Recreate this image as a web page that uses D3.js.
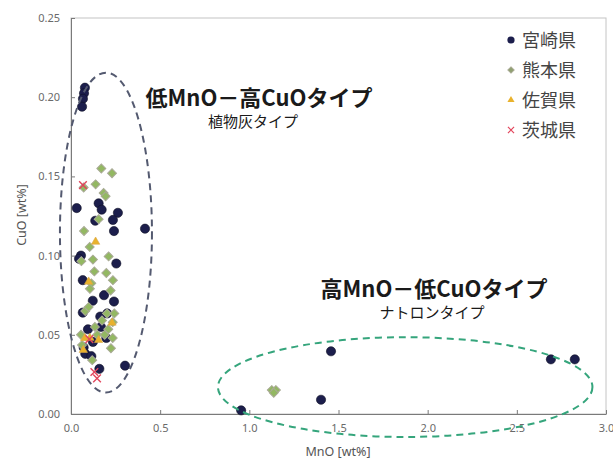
<!DOCTYPE html>
<html>
<head>
<meta charset="utf-8">
<script src="https://cdn.jsdelivr.net/npm/d3@7"></script>
<style>
  html, body { margin: 0; padding: 0; background: #fff; }
  svg { display: block; font-family: "Noto Sans CJK JP", "Noto Sans", sans-serif; }
</style>
</head>
<body>
<div id="chart"></div>
<script>
// MnO vs CuO scatter by prefecture, two dashed ellipses marking glass types

// [MnO, CuO] pairs in wt%
const miyazaki = [
  [0.078, 0.206], [0.073, 0.2025], [0.067, 0.199], [0.062, 0.194],
  [0.032, 0.130], [0.155, 0.133], [0.172, 0.129], [0.263, 0.127],
  [0.136, 0.122], [0.235, 0.1225], [0.241, 0.1155], [0.415, 0.117],
  [0.056, 0.100], [0.045, 0.098], [0.254, 0.095],
  [0.066, 0.0845], [0.185, 0.075], [0.241, 0.071], [0.122, 0.0715],
  [0.066, 0.064], [0.164, 0.0615], [0.203, 0.0635], [0.095, 0.0535],
  [0.168, 0.055], [0.123, 0.0455], [0.198, 0.048], [0.071, 0.042],
  [0.080, 0.038], [0.114, 0.0365], [0.159, 0.0285], [0.303, 0.0305],
  [1.458, 0.0396], [1.402, 0.009], [0.954, 0.0023], [2.691, 0.0345], [2.825, 0.0345]
];
const kumamoto = [
  [0.170, 0.155], [0.230, 0.152], [0.138, 0.145], [0.183, 0.1395],
  [0.194, 0.1375], [0.071, 0.143], [0.155, 0.123], [0.073, 0.1155],
  [0.105, 0.1055], [0.211, 0.0995], [0.123, 0.0975], [0.058, 0.0965],
  [0.131, 0.090], [0.198, 0.089], [0.235, 0.0845], [0.114, 0.0825],
  [0.106, 0.079], [0.222, 0.078], [0.080, 0.065], [0.099, 0.0675],
  [0.202, 0.0635], [0.243, 0.0635], [0.174, 0.059], [0.234, 0.058],
  [0.134, 0.055], [0.209, 0.0535], [0.056, 0.050], [0.147, 0.050],
  [0.189, 0.050], [0.234, 0.048], [0.224, 0.0415], [0.119, 0.034],
  [0.062, 0.0435],
  [1.126, 0.0151], [1.149, 0.0151], [1.137, 0.0134]
];
const saga = [
  [0.138, 0.1087], [0.099, 0.0835], [0.230, 0.0576], [0.077, 0.0478],
  [0.069, 0.0404], [0.155, 0.0467], [0.106, 0.048]
];
const ibaraki = [
  [0.067, 0.1445], [0.103, 0.0473], [0.131, 0.0265], [0.146, 0.0225]
];

const xTicks = [0, 0.5, 1, 1.5, 2, 2.5, 3];
const yTicks = [0, 0.05, 0.10, 0.15, 0.20, 0.25];
const legendNames = ['宮崎県', '熊本県', '佐賀県', '茨城県'];

// ellipses: [centre MnO, centre CuO, half-width MnO, half-height CuO]
const lowMnEllipse = [0.196, 0.1145, 0.258, 0.101];
const highMnEllipse = [1.874, 0.017, 1.050, 0.0315];

const W = 613, H = 461;
const x = d3.scaleLinear().domain([0, 3]).range([71, 606]);
const y = d3.scaleLinear().domain([0, 0.25]).range([414, 18]);

const svg = d3.select('#chart').append('svg').attr('width', W).attr('height', H);

// frame
svg.append('rect')
  .attr('x', x(0)).attr('y', y(0.25))
  .attr('width', x(3) - x(0)).attr('height', y(0) - y(0.25))
  .attr('fill', 'none').attr('stroke', '#c4c4c4').attr('stroke-width', 1);

const fmt = d3.format('.2f');
const gx = svg.append('g').attr('transform', `translate(0,${y(0)})`)
  .call(d3.axisBottom(x).tickValues(xTicks).tickFormat(d3.format('.1f')).tickSizeInner(-4).tickSizeOuter(0).tickPadding(10));
const gy = svg.append('g').attr('transform', `translate(${x(0)},0)`)
  .call(d3.axisLeft(y).tickValues(yTicks).tickFormat(fmt).tickSizeInner(-4).tickSizeOuter(0).tickPadding(11));
[gx, gy].forEach((g) => {
  g.select('.domain').attr('stroke', '#7a7a7a');
  g.selectAll('.tick line').attr('stroke', '#7a7a7a');
  g.selectAll('.tick text').attr('fill', '#6a6a6a').style('font-size', '11px')
    .style('font-family', '"Noto Sans", sans-serif');
});

svg.append('text').attr('x', 338).attr('y', 456).attr('text-anchor', 'middle')
  .attr('fill', '#555').style('font-size', '12.5px').style('font-family', '"Noto Sans", sans-serif')
  .text('MnO [wt%]');
svg.append('text').attr('transform', `translate(26,${215}) rotate(-90)`).attr('text-anchor', 'middle')
  .attr('fill', '#555').style('font-size', '12.5px').style('font-family', '"Noto Sans", sans-serif')
  .text('CuO [wt%]');

// markers
const plot = svg.append('g');
plot.selectAll('circle.miyazaki').data(miyazaki).join('circle')
  .attr('class', 'miyazaki')
  .attr('cx', (d) => x(d[0])).attr('cy', (d) => y(d[1])).attr('r', 4.6)
  .attr('fill', '#1c1e4c').attr('stroke', '#0e0f24').attr('stroke-width', 0.6);

// square turned 45 degrees, as in the original marker
const diamond = d3.symbol().type(d3.symbolSquare).size(40);
plot.selectAll('path.kumamoto').data(kumamoto).join('path')
  .attr('class', 'kumamoto')
  .attr('transform', (d) => `translate(${x(d[0])},${y(d[1])}) rotate(45)`)
  .attr('d', diamond)
  .attr('fill', '#93b862').attr('stroke', '#a9aa96').attr('stroke-width', 1);

const tri = d3.symbol().type(d3.symbolTriangle).size(30);
plot.selectAll('path.saga').data(saga).join('path')
  .attr('class', 'saga')
  .attr('transform', (d) => `translate(${x(d[0])},${y(d[1])})`)
  .attr('d', tri)
  .attr('fill', '#e9b22c').attr('stroke', '#d9a84a').attr('stroke-width', 0.6);

const cross = d3.symbol().type(d3.symbolX).size(40);
plot.selectAll('path.ibaraki').data(ibaraki).join('path')
  .attr('class', 'ibaraki')
  .attr('transform', (d) => `translate(${x(d[0])},${y(d[1])})`)
  .attr('d', cross)
  .attr('fill', 'none').attr('stroke', '#e2455c').attr('stroke-width', 1.4);

// dashed ellipses
const drawEllipse = (e, color) => {
  svg.append('ellipse')
    .attr('cx', x(e[0])).attr('cy', y(e[1]))
    .attr('rx', x(e[0] + e[2]) - x(e[0])).attr('ry', y(e[1]) - y(e[1] + e[3]))
    .attr('fill', 'none').attr('stroke', color).attr('stroke-width', 2)
    .attr('stroke-dasharray', '7 5');
};
drawEllipse(lowMnEllipse, '#545a70');
drawEllipse(highMnEllipse, '#35a57c');

// annotations
const annot = (xp, yp, size, weight, txt) => svg.append('text')
  .attr('x', xp).attr('y', yp).attr('text-anchor', 'middle')
  .attr('fill', '#1a1a1a').style('font-size', size + 'px').style('font-weight', weight)
  .text(txt);
annot(259, 106, 22, 700, '低MnO－高CuOタイプ');
annot(253, 127, 15, 400, '植物灰タイプ');
annot(434, 297, 22, 700, '高MnO－低CuOタイプ');
annot(432, 318, 15, 400, 'ナトロンタイプ');

// legend
const legend = svg.append('g');
const legendY = [40, 70, 100, 130];
const legendShapes = [
  (g) => g.append('circle').attr('r', 3.6).attr('fill', '#1c1e4c'),
  (g) => g.append('path').attr('d', d3.symbol().type(d3.symbolSquare).size(20)).attr('transform', 'rotate(45)').attr('fill', '#8fa070').attr('stroke', '#a7a892'),
  (g) => g.append('path').attr('d', d3.symbol().type(d3.symbolTriangle).size(22)).attr('fill', '#e9b22c'),
  (g) => g.append('path').attr('d', d3.symbol().type(d3.symbolX).size(26)).attr('fill', 'none').attr('stroke', '#e2455c').attr('stroke-width', 1.2)
];
legendNames.forEach((name, i) => {
  const g = legend.append('g').attr('transform', `translate(511,${legendY[i]})`);
  legendShapes[i](g);
  g.append('text').attr('x', 11).attr('y', 6.5).attr('fill', '#444')
    .style('font-size', '18px').text(name);
});
</script>
</body>
</html>
